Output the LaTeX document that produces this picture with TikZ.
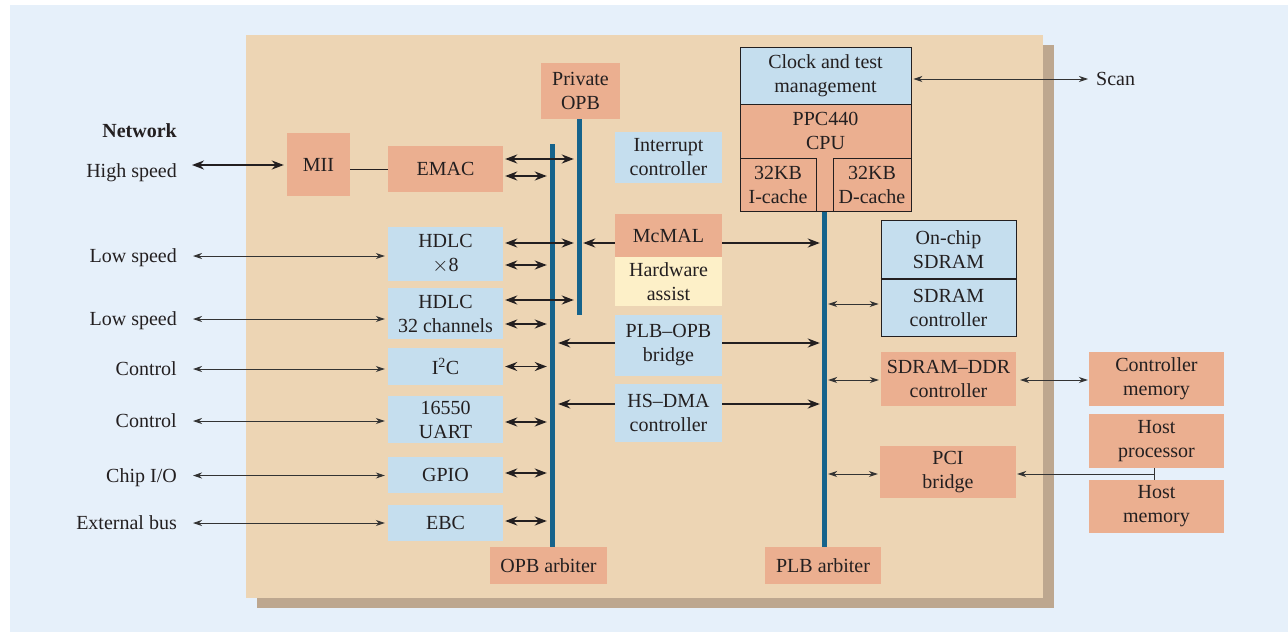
\documentclass[tikz,border=0pt]{standalone}
\usepackage{fontspec}
\setmainfont{Liberation Serif}
\usetikzlibrary{arrows.meta}
\definecolor{bgblue}{HTML}{E6F0FA}
\definecolor{chip}{HTML}{EDD5B4}
\definecolor{chipshadow}{HTML}{BDA78F}
\definecolor{salmon}{HTML}{EBAF90}
\definecolor{pale}{HTML}{C5DEEE}
\definecolor{cream}{HTML}{FDF0C8}
\definecolor{bus}{HTML}{16638B}
\definecolor{ink}{HTML}{231F20}
\definecolor{wire}{HTML}{333333}
\tikzset{
  blk/.style={inner sep=0pt, align=center, text=ink},
  wh/.style 2 args={minimum width=#1pt, minimum height=#2pt},
  salm/.style={blk, fill=salmon},
  lblue/.style={blk, fill=pale},
  yell/.style={blk, fill=cream},
  edged/.style={draw=ink, line width=0.9pt},
  busbar/.style={fill=bus, inner sep=0pt, minimum width=5pt},
  lab/.style={inner sep=0pt, text=ink},
  thk/.style={draw=ink, line width=1.8pt, >={Stealth[length=12pt,width=9pt]}},
  thn/.style={draw=wire, line width=0.9pt, >={Stealth[length=9pt,width=6pt]}},
}
\begin{document}
\begin{tikzpicture}[x=1pt,y=-1pt,font=\fontsize{20}{24}\selectfont]
\useasboundingbox (0,0) rectangle (1288,632);
% backdrop, chip shadow and chip
\fill[bgblue] (10,5) rectangle (1288,632);
\fill[chipshadow] (257,45) rectangle (1054,608);
\fill[chip] (246,35) rectangle (1043,598);

% buses
\node[busbar, minimum height=196pt] (privbar) at (579.5,217) {};
\node[busbar, minimum height=403pt] (opbbar) at (552.5,345.5) {};
\node[busbar, minimum height=336pt] (plbbar) at (824,379) {};

% left column
\node[salm, wh={63}{63}] (mii) at (318.5,164.5) {MII};
\node[salm, wh={115}{46}] (emac) at (445.5,169) {EMAC};
\node[lblue, wh={115}{54}] (hdlc8) at (445.5,254) {HDLC\\$\times$8};
\node[lblue, wh={115}{51}] (hdlc32) at (445.5,313.5) {HDLC\\32 channels};
\node[lblue, wh={115}{37}] (iic) at (445.5,366.5) {I\textsuperscript{2}C};
\node[lblue, wh={115}{47}] (uart) at (445.5,419.5) {16550\\UART};
\node[lblue, wh={115}{36}] (gpio) at (445.5,475) {GPIO};
\node[lblue, wh={115}{36}] (ebc) at (445.5,523) {EBC};
\node[salm, wh={117}{37}] (opbarb) at (548.5,565.5) {OPB arbiter};

% middle column
\node[salm, wh={79}{56}] (privopb) at (580.5,91) {Private\\OPB};
\node[lblue, wh={107}{51}] (intc) at (668.5,157.5) {Interrupt\\controller};
\node[salm, wh={107}{43}] (mcmal) at (668.5,235.5) {McMAL};
\node[yell, wh={107}{49}] (hwa) at (668.5,281.5) {Hardware\\assist};
\node[lblue, wh={107}{61}] (bridge) at (668.5,345.5) {PLB--OPB\\bridge};
\node[lblue, wh={107}{58}] (dma) at (668.5,413) {HS--DMA\\controller};

% processor block
\node[salm, edged, wh={171}{107}] (cpu) at (825.5,157.5) {};
\node[lblue, edged, wh={171}{57}] (clk) at (825.5,75.5) {Clock and test\\management};
\node[blk] (ppc) at (825.5,131) {PPC440\\CPU};
\node[salm, edged, wh={76}{53}] (icache) at (778,184.5) {32KB\\I-cache};
\node[salm, edged, wh={78}{53}] (dcache) at (872,184.5) {32KB\\D-cache};
\node[salm, wh={116}{37}] (plbarb) at (823,565.5) {PLB arbiter};

% right column
\node[lblue, edged, wh={135}{59}] (onchip) at (948.5,249.5) {On-chip\\SDRAM};
\node[lblue, edged, wh={135}{57}] (sdctl) at (948.5,307.5) {SDRAM\\controller};
\draw[ink, line width=2pt] (onchip.south west) -- (onchip.south east);
\node[salm, wh={135}{54}] (ddr) at (948.5,379) {SDRAM--DDR\\controller};
\node[salm, wh={136}{52}] (pci) at (948,472) {PCI\\bridge};

% off-chip blocks
\node[salm, wh={135}{54}] (cmem) at (1156.5,379) {Controller\\memory};
\node[salm, wh={135}{54}] (hproc) at (1156.5,441) {Host\\processor};
\node[salm, wh={135}{53}] (hmem) at (1156.5,506.5) {Host\\memory};

% external signal labels
\node[lab, anchor=base east] (net) at (177,137.5) {\bfseries Network};
\coordinate (hs) at (192,165);
\node[lab, anchor=base east] (hsl) at (177,177) {High speed};
\coordinate (lsA) at (193,256);
\node[lab, anchor=base east] (lslA) at (177,262.5) {Low speed};
\coordinate (lsB) at (193,319);
\node[lab, anchor=base east] (lslB) at (177,325.5) {Low speed};
\coordinate (ctA) at (193,369);
\node[lab, anchor=base east] (ctlA) at (177,375.5) {Control};
\coordinate (ctB) at (193,421);
\node[lab, anchor=base east] (ctlB) at (177,427.5) {Control};
\coordinate (cio) at (193,475.5);
\node[lab, anchor=base east] (ciol) at (177,482) {Chip I/O};
\coordinate (xb) at (193,523);
\node[lab, anchor=base east] (xbl) at (177,529.5) {External bus};
\coordinate (scan) at (1088,79);
\node[lab, anchor=base west] (scanl) at (1096,85.5) {Scan};
\coordinate (hj) at (1154,474);

% external links
\draw[thk,<->,shorten >=3pt] (hs) -- (hs -| mii.west);
\draw[ink, line width=1pt] (emac.west -| mii.east) -- (emac.west);
\draw[thn,<->,shorten >=3pt] (lsA) -- (lsA -| hdlc8.west);
\draw[thn,<->,shorten >=3pt] (lsB) -- (lsB -| hdlc32.west);
\draw[thn,<->,shorten >=3pt] (ctA) -- (ctA -| iic.west);
\draw[thn,<->,shorten >=3pt] (ctB) -- (ctB -| uart.west);
\draw[thn,<->,shorten >=3pt] (cio) -- (cio -| gpio.west);
\draw[thn,<->,shorten >=3pt] (xb) -- (xb -| ebc.west);
\draw[thn,<->,shorten <=2pt] ([yshift=-3.5pt]clk.east) -- (scan);

% peripherals to OPB and private OPB
\draw[thk,<->,shorten <=2pt,shorten >=3pt] ([yshift=10pt]emac.east) -- ([yshift=10pt]emac.east -| privbar.west);
\draw[thk,<->,shorten <=2pt,shorten >=3pt] ([yshift=-7pt]emac.east) -- ([yshift=-7pt]emac.east -| opbbar.west);
\draw[thk,<->,shorten <=2pt,shorten >=3pt] ([yshift=11pt]hdlc8.east) -- ([yshift=11pt]hdlc8.east -| privbar.west);
\draw[thk,<->,shorten <=2pt,shorten >=3pt] ([yshift=-11pt]hdlc8.east) -- ([yshift=-11pt]hdlc8.east -| opbbar.west);
\draw[thk,<->,shorten <=2pt,shorten >=3pt] ([yshift=13.5pt]hdlc32.east) -- ([yshift=13.5pt]hdlc32.east -| privbar.west);
\draw[thk,<->,shorten <=2pt,shorten >=3pt] ([yshift=-10.5pt]hdlc32.east) -- ([yshift=-10.5pt]hdlc32.east -| opbbar.west);
\draw[thk,<->,shorten <=2pt,shorten >=3pt] (iic.east) -- (iic.east -| opbbar.west);
\draw[thk,<->,shorten <=2pt,shorten >=3pt] ([yshift=-2.5pt]uart.east) -- ([yshift=-2.5pt]uart.east -| opbbar.west);
\draw[thk,<->,shorten <=2pt,shorten >=3pt] ([yshift=2pt]gpio.east) -- ([yshift=2pt]gpio.east -| opbbar.west);
\draw[thk,<->,shorten <=2pt,shorten >=3pt] ([yshift=2pt]ebc.east) -- ([yshift=2pt]ebc.east -| opbbar.west);

% bridges and DMA to both buses
\draw[thk,->,shorten >=1pt] ([yshift=-7.5pt]mcmal.west) -- ([yshift=-7.5pt]mcmal.west -| privbar.east);
\draw[thk,->,shorten >=1.5pt] ([yshift=-7.5pt]mcmal.east) -- ([yshift=-7.5pt]mcmal.east -| plbbar.west);
\draw[thk,->,shorten >=3pt] ([yshift=2.5pt]bridge.west) -- ([yshift=2.5pt]bridge.west -| opbbar.east);
\draw[thk,->,shorten >=1.5pt] ([yshift=2.5pt]bridge.east) -- ([yshift=2.5pt]bridge.east -| plbbar.west);
\draw[thk,->,shorten >=3pt] ([yshift=9pt]dma.west) -- ([yshift=9pt]dma.west -| opbbar.east);
\draw[thk,->,shorten >=1.5pt] ([yshift=9pt]dma.east) -- ([yshift=9pt]dma.east -| plbbar.west);

% PLB side
\draw[thn,<->,shorten <=1.5pt,shorten >=2pt] ([yshift=3.5pt]sdctl.west -| plbbar.east) -- ([yshift=3.5pt]sdctl.west);
\draw[thn,<->,shorten <=1.5pt,shorten >=2pt] ([yshift=-1pt]ddr.west -| plbbar.east) -- ([yshift=-1pt]ddr.west);
\draw[thn,<->,shorten <=1.5pt,shorten >=2pt] ([yshift=-2pt]pci.west -| plbbar.east) -- ([yshift=-2pt]pci.west);
\draw[thn,<->,shorten <=4pt,shorten >=1pt] ([yshift=-1pt]ddr.east) -- ([yshift=-1pt]ddr.east -| cmem.west);

% host connection
\draw[wire, line width=1pt] (hproc.south -| hj) -- (hmem.north -| hj);
\draw[thn,->,shorten >=1pt] (hj) -- (hj -| pci.east);
\end{tikzpicture}
\end{document}
